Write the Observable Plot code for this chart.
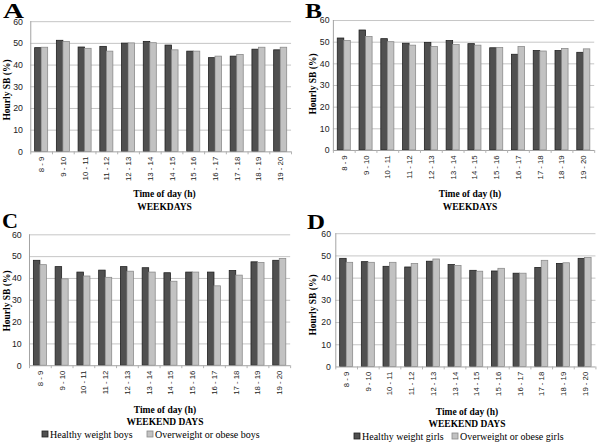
<!DOCTYPE html>
<html>
<head>
<meta charset="utf-8">
<script src="https://cdn.jsdelivr.net/npm/d3@7"></script>
<script src="https://cdn.jsdelivr.net/npm/@observablehq/plot@0.6"></script>
<style>
  body { margin: 0; background: #fff; }
  #root { position: relative; width: 600px; height: 442px; overflow: hidden; background: #fff; }
  .panel { position: absolute; overflow: hidden; }
  .panel svg { display: block; }
  #overlay { position: absolute; left: 0; top: 0; }
</style>
</head>
<body>
<div id="root"></div>
<script>
// ---- data ----
const hours = ["8 - 9","9 - 10","10 - 11","11 - 12","12 - 13","13 - 14","14 - 15","15 - 16","16 - 17","17 - 18","18 - 19","19 - 20"];
const yTicks = [0, 10, 20, 30, 40, 50, 60];
const boysWeekdayHealthy  = [47.8, 51.2, 48.1, 48.4, 49.9, 50.7, 49.0, 46.2, 43.2, 43.9, 47.1, 46.8];
const boysWeekdayOver     = [48.0, 50.7, 47.5, 46.2, 50.0, 50.1, 46.8, 46.2, 43.9, 44.7, 48.0, 48.0];
const girlsWeekdayHealthy = [51.7, 55.4, 51.4, 49.3, 49.7, 50.5, 49.1, 47.2, 44.2, 45.9, 45.9, 45.1];
const girlsWeekdayOver    = [50.5, 52.4, 50.0, 48.4, 47.8, 48.7, 48.4, 47.3, 47.8, 45.7, 46.9, 46.7];
const boysWeekendHealthy  = [48.1, 45.2, 42.7, 43.6, 45.2, 44.7, 42.4, 42.7, 42.7, 43.4, 47.4, 48.1];
const boysWeekendOver     = [46.1, 39.6, 40.9, 40.3, 43.1, 42.7, 38.5, 42.7, 36.4, 41.3, 47.1, 48.9];
const girlsWeekendHealthy = [48.7, 47.2, 45.1, 44.8, 47.4, 45.9, 43.3, 43.0, 42.0, 44.6, 46.4, 48.7];
const girlsWeekendOver    = [46.9, 46.9, 46.9, 46.4, 48.4, 45.5, 42.9, 44.2, 42.0, 47.8, 46.7, 49.1];
const panelLetters = ["A", "B", "C", "D"];
const yTitle = "Hourly SB (%)";
const xTitle = "Time of day (h)";
const dayTitles = ["WEEKDAYS", "WEEKEND DAYS"];
const legendBoys = ["Healthy weight boys", "Overweight or obese boys"];
const legendGirls = ["Healthy weight girls", "Overweight or obese girls"];

// ---- style ----
const DARK = "#505050", DARK_STROKE = "#1e1e1e";
const LIGHT = "#c2c2c2", LIGHT_STROKE = "#8a8a8a";
const SERIF = "'Liberation Serif', 'Times New Roman', serif";
const SANS = "'Liberation Sans', Arial, sans-serif";

const panels = [
  {healthy: boysWeekdayHealthy,  over: boysWeekdayOver,  left: 0,   top: 0,   clipW: 293, clipH: 200, width: 300, height: 200, mL: 31,   mR: 2,   mT: 21.7, mB: 45,   pad: 8},
  {healthy: girlsWeekdayHealthy, over: girlsWeekdayOver, left: 300, top: 0,   clipW: 300, clipH: 200, width: 310, height: 200, mL: 34,   mR: 6,   mT: 20.7, mB: 45,   pad: 4},
  {healthy: boysWeekendHealthy,  over: boysWeekendOver,  left: 0,   top: 210, clipW: 292, clipH: 200, width: 300, height: 200, mL: 29.8, mR: 1.9, mT: 25,   mB: 40.5, pad: 8},
  {healthy: girlsWeekendHealthy, over: girlsWeekendOver, left: 300, top: 210, clipW: 300, clipH: 200, width: 310, height: 200, mL: 36.5, mR: 4.7, mT: 24,   mB: 38.3, pad: 5}
];

const root = document.getElementById("root");
const bounds = d3.range(13).map(i => i - 0.5);
const W = 0.3;

panels.forEach(p => {
  const hRows = hours.map((h, i) => ({i, v: p.healthy[i]}));
  const oRows = hours.map((h, i) => ({i, v: p.over[i]}));
  const chart = Plot.plot({
    width: p.width, height: p.height,
    marginLeft: p.mL, marginRight: p.mR, marginTop: p.mT, marginBottom: p.mB,
    x: {type: "linear", domain: [-0.5, 11.5]},
    y: {domain: [0, 60]},
    style: {background: "transparent", fontFamily: SANS, color: "#222"},
    marks: [
      Plot.gridY(yTicks.slice(1), {stroke: "#c4c4c4", strokeOpacity: 1}),
      Plot.rect(hRows, {x1: d => d.i - W, x2: d => d.i, y1: 0, y2: "v", fill: DARK, stroke: DARK_STROKE, strokeWidth: 0.8}),
      Plot.rect(oRows, {x1: d => d.i, x2: d => d.i + W, y1: 0, y2: "v", fill: LIGHT, stroke: LIGHT_STROKE, strokeWidth: 0.8}),
      Plot.ruleY([0], {stroke: "#a0a0a0"}),
      Plot.ruleX([-0.5], {stroke: "#a0a0a0"}),
      Plot.axisY(yTicks, {tickSize: 0, tickPadding: p.pad, fontSize: 9, label: null, fill: "#222"}),
      Plot.axisX(bounds, {tickSize: 3, tickFormat: () => "", label: null, stroke: "#b0b0b0"}),
      Plot.axisX(d3.range(12), {tickSize: 0, tickRotate: -90, tickPadding: 5, fontSize: 8, tickFormat: i => hours[i], label: null, fill: "#222"})
    ]
  });
  const div = document.createElement("div");
  div.className = "panel";
  Object.assign(div.style, {left: p.left + "px", top: p.top + "px", width: p.clipW + "px", height: p.clipH + "px"});
  div.appendChild(chart);
  root.appendChild(div);
});

// ---- overlay text ----
const svg = d3.select(root).append("svg").attr("id", "overlay").attr("width", 600).attr("height", 442);
const letterPos = [[3, 17.5, 21], [305, 17.5, 17], [2, 227.5, 16], [307, 229, 18]];
panelLetters.forEach((L, k) => {
  const [x, y, len] = letterPos[k];
  svg.append("text").attr("x", x).attr("y", y).attr("font-family", SERIF).attr("font-weight", "bold")
    .attr("font-size", 20).attr("textLength", len).attr("lengthAdjust", "spacingAndGlyphs").text(L);
});
const yTitlePos = [[6.5, 90], [312.5, 84], [6.5, 301], [313, 305]];
yTitlePos.forEach(([x, y]) => {
  svg.append("text").attr("transform", `translate(${x},${y}) rotate(-90)`).attr("text-anchor", "middle")
    .attr("dominant-baseline", "central").attr("font-family", SERIF).attr("font-weight", "bold")
    .attr("font-size", 9.5).text(yTitle);
});
const xTitlePos = [[164.5, 197, 210, 0], [470, 197, 210, 0], [165, 413, 425, 1], [467, 415, 427, 1]];
xTitlePos.forEach(([x, y1, y2, d]) => {
  svg.append("text").attr("x", x).attr("y", y1).attr("text-anchor", "middle").attr("font-family", SERIF)
    .attr("font-weight", "bold").attr("font-size", 9.5).text(xTitle);
  svg.append("text").attr("x", x).attr("y", y2).attr("text-anchor", "middle").attr("font-family", SERIF)
    .attr("font-weight", "bold").attr("font-size", 9.5).text(dayTitles[d]);
});
// legends
function legend(labels, xs, y) {
  labels.forEach((lab, k) => {
    const x = xs[k];
    svg.append("rect").attr("x", x).attr("y", y - 7).attr("width", 6).attr("height", 6)
      .attr("fill", k === 0 ? DARK : LIGHT).attr("stroke", k === 0 ? DARK_STROKE : LIGHT_STROKE).attr("stroke-width", 0.8);
    svg.append("text").attr("x", x + 8).attr("y", y).attr("font-family", SERIF).attr("font-size", 10).text(lab);
  });
}
legend(legendBoys, [42, 147], 438);
legend(legendGirls, [354, 452], 440);
</script>
</body>
</html>
